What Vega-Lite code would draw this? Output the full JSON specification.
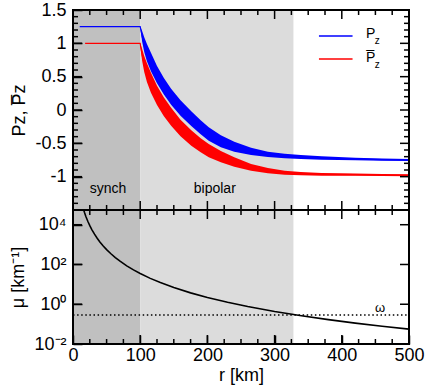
{
  "$schema": "https://vega.github.io/schema/vega-lite/v6.json",
  "background": "white",
  "padding": {"left": 9, "top": 1, "right": 4, "bottom": 2},
  "spacing": 0,
  "bounds": "flush",
  "config": {
    "view": {"stroke": null},
    "axis": {"grid": false, "domain": false, "ticks": true, "tickOpacity": 1, "labelFont": "Liberation Sans", "titleFont": "Liberation Sans", "labelFontSize": 18, "titleFontSize": 18, "titleFontWeight": "normal", "labelColor": "black", "titleColor": "black", "tickColor": "black", "tickWidth": 1.5, "labelFlush": false, "labelOverlap": false},
    "text": {"font": "Liberation Sans", "color": "black"},
    "rule": {"color": "black", "strokeWidth": 1.5}
  },
  "datasets": {
    "regions": [
      {"zone": "synch", "from": 0, "to": 100},
      {"zone": "bipolar", "from": 100, "to": 328}
    ],
    "xticks": [
      {"v": 0, "k": "M"}, {"v": 25, "k": "m"}, {"v": 50, "k": "m"}, {"v": 75, "k": "m"},
      {"v": 100, "k": "M"}, {"v": 125, "k": "m"}, {"v": 150, "k": "m"}, {"v": 175, "k": "m"},
      {"v": 200, "k": "M"}, {"v": 225, "k": "m"}, {"v": 250, "k": "m"}, {"v": 275, "k": "m"},
      {"v": 300, "k": "M"}, {"v": 325, "k": "m"}, {"v": 350, "k": "m"}, {"v": 375, "k": "m"},
      {"v": 400, "k": "M"}, {"v": 425, "k": "m"}, {"v": 450, "k": "m"}, {"v": 475, "k": "m"},
      {"v": 500, "k": "M"}
    ],
    "yticks": [
      {"v": -1.5, "k": "M"}, {"v": -1.4, "k": "m"}, {"v": -1.3, "k": "m"}, {"v": -1.2, "k": "m"}, {"v": -1.1, "k": "m"},
      {"v": -1.0, "k": "M"}, {"v": -0.9, "k": "m"}, {"v": -0.8, "k": "m"}, {"v": -0.7, "k": "m"}, {"v": -0.6, "k": "m"},
      {"v": -0.5, "k": "M"}, {"v": -0.4, "k": "m"}, {"v": -0.3, "k": "m"}, {"v": -0.2, "k": "m"}, {"v": -0.1, "k": "m"},
      {"v": 0.0, "k": "M"}, {"v": 0.1, "k": "m"}, {"v": 0.2, "k": "m"}, {"v": 0.3, "k": "m"}, {"v": 0.4, "k": "m"},
      {"v": 0.5, "k": "M"}, {"v": 0.6, "k": "m"}, {"v": 0.7, "k": "m"}, {"v": 0.8, "k": "m"}, {"v": 0.9, "k": "m"},
      {"v": 1.0, "k": "M"}, {"v": 1.1, "k": "m"}, {"v": 1.2, "k": "m"}, {"v": 1.3, "k": "m"}, {"v": 1.4, "k": "m"},
      {"v": 1.5, "k": "M"}
    ],
    "logticks": [{"v": 0.01}, {"v": 1}, {"v": 100}, {"v": 10000}],
    "curves": [
      {"s": "P", "r": 10, "c": 1.25, "lo": 1.25, "hi": 1.25},
      {"s": "P", "r": 100, "c": 1.25, "lo": 1.25, "hi": 1.25},
      {"s": "P", "r": 101, "c": 1.2, "lo": 1.17, "hi": 1.23},
      {"s": "P", "r": 103, "c": 1.1, "lo": 1.02, "hi": 1.18},
      {"s": "P", "r": 106, "c": 0.98, "lo": 0.87, "hi": 1.09},
      {"s": "P", "r": 110, "c": 0.86, "lo": 0.73, "hi": 0.99},
      {"s": "P", "r": 116, "c": 0.72, "lo": 0.58, "hi": 0.86},
      {"s": "P", "r": 125, "c": 0.53, "lo": 0.4, "hi": 0.66},
      {"s": "P", "r": 135, "c": 0.36, "lo": 0.235, "hi": 0.485},
      {"s": "P", "r": 146, "c": 0.2, "lo": 0.08, "hi": 0.32},
      {"s": "P", "r": 160, "c": 0.03, "lo": -0.085, "hi": 0.145},
      {"s": "P", "r": 176, "c": -0.13, "lo": -0.24, "hi": -0.02},
      {"s": "P", "r": 190, "c": -0.26, "lo": -0.365, "hi": -0.155},
      {"s": "P", "r": 202, "c": -0.36, "lo": -0.46, "hi": -0.26},
      {"s": "P", "r": 220, "c": -0.47, "lo": -0.56, "hi": -0.38},
      {"s": "P", "r": 240, "c": -0.55, "lo": -0.625, "hi": -0.475},
      {"s": "P", "r": 265, "c": -0.62, "lo": -0.675, "hi": -0.565},
      {"s": "P", "r": 290, "c": -0.665, "lo": -0.705, "hi": -0.625},
      {"s": "P", "r": 315, "c": -0.69, "lo": -0.725, "hi": -0.655},
      {"s": "P", "r": 339, "c": -0.705, "lo": -0.735, "hi": -0.675},
      {"s": "P", "r": 370, "c": -0.72, "lo": -0.745, "hi": -0.695},
      {"s": "P", "r": 420, "c": -0.735, "lo": -0.755, "hi": -0.715},
      {"s": "P", "r": 460, "c": -0.745, "lo": -0.763, "hi": -0.727},
      {"s": "P", "r": 500, "c": -0.75, "lo": -0.765, "hi": -0.735},
      {"s": "Pbar", "r": 18, "c": 1.0, "lo": 1.0, "hi": 1.0},
      {"s": "Pbar", "r": 100, "c": 1.0, "lo": 1.0, "hi": 1.0},
      {"s": "Pbar", "r": 101, "c": 0.93, "lo": 0.89, "hi": 0.97},
      {"s": "Pbar", "r": 103, "c": 0.82, "lo": 0.73, "hi": 0.91},
      {"s": "Pbar", "r": 106, "c": 0.69, "lo": 0.57, "hi": 0.81},
      {"s": "Pbar", "r": 110, "c": 0.56, "lo": 0.42, "hi": 0.7},
      {"s": "Pbar", "r": 116, "c": 0.41, "lo": 0.26, "hi": 0.56},
      {"s": "Pbar", "r": 125, "c": 0.22, "lo": 0.075, "hi": 0.365},
      {"s": "Pbar", "r": 135, "c": 0.05, "lo": -0.09, "hi": 0.19},
      {"s": "Pbar", "r": 146, "c": -0.1, "lo": -0.235, "hi": 0.035},
      {"s": "Pbar", "r": 160, "c": -0.27, "lo": -0.395, "hi": -0.145},
      {"s": "Pbar", "r": 176, "c": -0.42, "lo": -0.535, "hi": -0.305},
      {"s": "Pbar", "r": 190, "c": -0.53, "lo": -0.635, "hi": -0.425},
      {"s": "Pbar", "r": 202, "c": -0.61, "lo": -0.71, "hi": -0.51},
      {"s": "Pbar", "r": 220, "c": -0.7, "lo": -0.785, "hi": -0.615},
      {"s": "Pbar", "r": 240, "c": -0.78, "lo": -0.85, "hi": -0.71},
      {"s": "Pbar", "r": 265, "c": -0.86, "lo": -0.91, "hi": -0.81},
      {"s": "Pbar", "r": 290, "c": -0.91, "lo": -0.95, "hi": -0.87},
      {"s": "Pbar", "r": 315, "c": -0.94, "lo": -0.97, "hi": -0.91},
      {"s": "Pbar", "r": 339, "c": -0.955, "lo": -0.98, "hi": -0.93},
      {"s": "Pbar", "r": 370, "c": -0.965, "lo": -0.985, "hi": -0.945},
      {"s": "Pbar", "r": 420, "c": -0.97, "lo": -0.988, "hi": -0.952},
      {"s": "Pbar", "r": 460, "c": -0.975, "lo": -0.991, "hi": -0.959},
      {"s": "Pbar", "r": 500, "c": -0.98, "lo": -0.995, "hi": -0.965}
    ],
    "mu": [
      {"r": 15, "m": 69136}, {"r": 17, "m": 41905}, {"r": 19, "m": 26857},
      {"r": 22, "m": 14941}, {"r": 25, "m": 8960}, {"r": 28, "m": 5694},
      {"r": 32, "m": 3338}, {"r": 36, "m": 2084}, {"r": 40, "m": 1367},
      {"r": 45, "m": 853.5}, {"r": 50, "m": 560}, {"r": 56, "m": 355.9},
      {"r": 63, "m": 222.2}, {"r": 70, "m": 145.8}, {"r": 80, "m": 85.4},
      {"r": 90, "m": 53.3}, {"r": 100, "m": 35}, {"r": 115, "m": 20.0},
      {"r": 130, "m": 12.25}, {"r": 150, "m": 6.91}, {"r": 175, "m": 3.73},
      {"r": 200, "m": 2.19}, {"r": 230, "m": 1.251}, {"r": 260, "m": 0.766},
      {"r": 300, "m": 0.432}, {"r": 340, "m": 0.262}, {"r": 380, "m": 0.168},
      {"r": 420, "m": 0.1125}, {"r": 460, "m": 0.0782}, {"r": 500, "m": 0.056}
    ]
  },
  "vconcat": [
    {
      "width": 336,
      "height": 200,
      "resolve": {"scale": {"color": "independent"}, "axis": {"x": "independent", "y": "independent"}},
      "layer": [
        {
          "data": {"name": "regions"},
          "transform": [{"filter": "datum.zone == 'synch'"}],
          "mark": {"type": "rect", "color": "#c0c0c0"},
          "encoding": {
            "x": {"field": "from", "type": "quantitative", "scale": {"domain": [0, 500], "nice": false}, "axis": null},
            "x2": {"field": "to"},
            "y": {"datum": -1.5, "type": "quantitative", "scale": {"domain": [-1.5, 1.5], "nice": false},
                  "axis": {"orient": "left", "values": [-1.5, -1, -0.5, 0, 0.5, 1, 1.5], "offset": -9, "ticks": true, "tickSize": 9, "labelPadding": 7, "labelExpr": "datum.value == -1.5 ? '' : toString(datum.value)", "title": "Pz, P̅z", "titlePadding": 6, "zindex": 1}},
            "y2": {"datum": 1.5}
          }
        },
        {
          "data": {"name": "regions"},
          "transform": [{"filter": "datum.zone == 'bipolar'"}],
          "mark": {"type": "rect", "color": "#dcdcdc"},
          "encoding": {
            "x": {"field": "from", "type": "quantitative", "axis": null},
            "x2": {"field": "to"},
            "y": {"datum": -1.5, "type": "quantitative", "axis": null},
            "y2": {"datum": 1.5}
          }
        },
        {
          "data": {"name": "curves"},
          "mark": {"type": "area", "clip": true, "opacity": 1},
          "encoding": {
            "x": {"field": "r", "type": "quantitative", "axis": null},
            "y": {"field": "lo", "type": "quantitative", "stack": null, "axis": null},
            "y2": {"field": "hi"},
            "color": {"field": "s", "type": "nominal", "scale": {"domain": ["P", "Pbar"], "range": ["#0000ff", "#ff0000"]}, "legend": null}
          }
        },
        {
          "data": {"name": "curves"},
          "mark": {"type": "line", "clip": true, "strokeWidth": 1.2},
          "encoding": {
            "x": {"field": "r", "type": "quantitative", "axis": null},
            "y": {"field": "c", "type": "quantitative", "axis": null},
            "color": {"field": "s", "type": "nominal", "scale": {"domain": ["P", "Pbar"], "range": ["#0000ff", "#ff0000"]}, "legend": null}
          }
        },
        {
          "data": {"name": "xticks"},
          "transform": [{"filter": "datum.k == 'M'"}],
          "mark": {"type": "rule"},
          "encoding": {
            "x": {"field": "v", "type": "quantitative", "axis": null},
            "y": {"datum": -1.5, "type": "quantitative", "axis": null},
            "y2": {"datum": -1.365}
          }
        },
        {
          "data": {"name": "xticks"},
          "transform": [{"filter": "datum.k == 'm'"}],
          "mark": {"type": "rule"},
          "encoding": {
            "x": {"field": "v", "type": "quantitative", "axis": null},
            "y": {"datum": -1.5, "type": "quantitative", "axis": null},
            "y2": {"datum": -1.425}
          }
        },
        {
          "data": {"name": "xticks"},
          "transform": [{"filter": "datum.k == 'M'"}],
          "mark": {"type": "rule"},
          "encoding": {
            "x": {"field": "v", "type": "quantitative", "axis": null},
            "y": {"datum": 1.5, "type": "quantitative", "axis": null},
            "y2": {"datum": 1.365}
          }
        },
        {
          "data": {"name": "xticks"},
          "transform": [{"filter": "datum.k == 'm'"}],
          "mark": {"type": "rule"},
          "encoding": {
            "x": {"field": "v", "type": "quantitative", "axis": null},
            "y": {"datum": 1.5, "type": "quantitative", "axis": null},
            "y2": {"datum": 1.425}
          }
        },
        {
          "data": {"name": "yticks"},
          "transform": [{"filter": "datum.k == 'M'"}],
          "mark": {"type": "rule"},
          "encoding": {
            "y": {"field": "v", "type": "quantitative", "axis": null},
            "x": {"datum": 0, "type": "quantitative", "axis": null},
            "x2": {"datum": 13.4}
          }
        },
        {
          "data": {"name": "yticks"},
          "transform": [{"filter": "datum.k == 'm'"}],
          "mark": {"type": "rule"},
          "encoding": {
            "y": {"field": "v", "type": "quantitative", "axis": null},
            "x": {"datum": 0, "type": "quantitative", "axis": null},
            "x2": {"datum": 7.4}
          }
        },
        {
          "data": {"name": "yticks"},
          "transform": [{"filter": "datum.k == 'M'"}],
          "mark": {"type": "rule"},
          "encoding": {
            "y": {"field": "v", "type": "quantitative", "axis": null},
            "x": {"datum": 500, "type": "quantitative", "axis": null},
            "x2": {"datum": 486.6}
          }
        },
        {
          "data": {"name": "yticks"},
          "transform": [{"filter": "datum.k == 'm'"}],
          "mark": {"type": "rule"},
          "encoding": {
            "y": {"field": "v", "type": "quantitative", "axis": null},
            "x": {"datum": 500, "type": "quantitative", "axis": null},
            "x2": {"datum": 492.6}
          }
        },
        {
          "data": {"values": [{}]},
          "mark": {"type": "rule", "color": "#0000ff", "strokeWidth": 1.3},
          "encoding": {
            "x": {"datum": 366, "type": "quantitative", "axis": null},
            "x2": {"datum": 416},
            "y": {"datum": 1.11, "type": "quantitative", "axis": null}
          }
        },
        {
          "data": {"values": [{}]},
          "mark": {"type": "rule", "color": "#ff0000", "strokeWidth": 1.3},
          "encoding": {
            "x": {"datum": 366, "type": "quantitative", "axis": null},
            "x2": {"datum": 416},
            "y": {"datum": 0.765, "type": "quantitative", "axis": null}
          }
        },
        {
          "data": {"values": [{}]},
          "mark": {"type": "rect", "filled": false, "stroke": "black", "strokeWidth": 2},
          "encoding": {
            "x": {"datum": 0, "type": "quantitative", "axis": null},
            "x2": {"datum": 500},
            "y": {"datum": -1.5, "type": "quantitative", "axis": null},
            "y2": {"datum": 1.5}
          }
        },
        {
          "data": {"values": [{}]},
          "mark": {"type": "text", "fontSize": 14, "align": "center", "baseline": "middle", "text": "synch"},
          "encoding": {"x": {"datum": 52, "type": "quantitative", "axis": null}, "y": {"datum": -1.185, "type": "quantitative", "axis": null}}
        },
        {
          "data": {"values": [{}]},
          "mark": {"type": "text", "fontSize": 14, "align": "center", "baseline": "middle", "text": "bipolar"},
          "encoding": {"x": {"datum": 211, "type": "quantitative", "axis": null}, "y": {"datum": -1.185, "type": "quantitative", "axis": null}}
        },
        {
          "data": {"values": [{}]},
          "mark": {"type": "text", "fontSize": 14, "align": "left", "baseline": "middle", "text": "P"},
          "encoding": {"x": {"datum": 436, "type": "quantitative", "axis": null}, "y": {"datum": 1.135, "type": "quantitative", "axis": null}}
        },
        {
          "data": {"values": [{}]},
          "mark": {"type": "text", "fontSize": 10, "align": "left", "baseline": "middle", "text": "z"},
          "encoding": {"x": {"datum": 449, "type": "quantitative", "axis": null}, "y": {"datum": 1.03, "type": "quantitative", "axis": null}}
        },
        {
          "data": {"values": [{}]},
          "mark": {"type": "text", "fontSize": 14, "align": "left", "baseline": "middle", "text": "P̅"},
          "encoding": {"x": {"datum": 436, "type": "quantitative", "axis": null}, "y": {"datum": 0.775, "type": "quantitative", "axis": null}}
        },
        {
          "data": {"values": [{}]},
          "mark": {"type": "text", "fontSize": 10, "align": "left", "baseline": "middle", "text": "z"},
          "encoding": {"x": {"datum": 449, "type": "quantitative", "axis": null}, "y": {"datum": 0.675, "type": "quantitative", "axis": null}}
        }
      ]
    },
    {
      "width": 336,
      "height": 134,
      "resolve": {"axis": {"x": "independent", "y": "independent"}},
      "layer": [
        {
          "data": {"name": "regions"},
          "transform": [{"filter": "datum.zone == 'synch'"}],
          "mark": {"type": "rect", "color": "#c0c0c0"},
          "encoding": {
            "x": {"field": "from", "type": "quantitative", "scale": {"domain": [0, 500], "nice": false},
                  "axis": {"orient": "bottom", "values": [0, 100, 200, 300, 400, 500], "offset": -9, "ticks": true, "tickSize": 9, "labelPadding": 2, "title": "r [km]", "titlePadding": 2, "zindex": 1}},
            "x2": {"field": "to"},
            "y": {"datum": 0.01, "type": "quantitative", "scale": {"type": "log", "domain": [0.01, 55000], "nice": false},
                  "axis": {"orient": "left", "values": [0.01, 1, 100, 10000], "offset": -9, "ticks": true, "tickSize": 9, "labelPadding": 7, "labelExpr": "datum.value < 0.1 ? '10⁻²' : datum.value < 10 ? '10⁰' : datum.value < 1000 ? '10²' : '10⁴'", "title": "μ [km⁻¹]", "titlePadding": 6, "zindex": 1}},
            "y2": {"datum": 55000}
          }
        },
        {
          "data": {"name": "regions"},
          "transform": [{"filter": "datum.zone == 'bipolar'"}],
          "mark": {"type": "rect", "color": "#dcdcdc"},
          "encoding": {
            "x": {"field": "from", "type": "quantitative", "axis": null},
            "x2": {"field": "to"},
            "y": {"datum": 0.01, "type": "quantitative", "axis": null},
            "y2": {"datum": 55000}
          }
        },
        {
          "data": {"name": "mu"},
          "mark": {"type": "line", "clip": true, "color": "black", "strokeWidth": 1.6},
          "encoding": {
            "x": {"field": "r", "type": "quantitative", "axis": null},
            "y": {"field": "m", "type": "quantitative", "axis": null}
          }
        },
        {
          "data": {"values": [{}]},
          "mark": {"type": "rule", "color": "black", "strokeWidth": 1.5, "strokeDash": [1.5, 2.6]},
          "encoding": {
            "x": {"datum": 0, "type": "quantitative", "axis": null},
            "x2": {"datum": 500},
            "y": {"datum": 0.29, "type": "quantitative", "axis": null}
          }
        },
        {
          "data": {"name": "xticks"},
          "transform": [{"filter": "datum.k == 'M'"}],
          "mark": {"type": "rule"},
          "encoding": {
            "x": {"field": "v", "type": "quantitative", "axis": null},
            "y": {"datum": 55000, "type": "quantitative", "axis": null},
            "y2": {"datum": 19430}
          }
        },
        {
          "data": {"name": "xticks"},
          "transform": [{"filter": "datum.k == 'm'"}],
          "mark": {"type": "rule"},
          "encoding": {
            "x": {"field": "v", "type": "quantitative", "axis": null},
            "y": {"datum": 55000, "type": "quantitative", "axis": null},
            "y2": {"datum": 30900}
          }
        },
        {
          "data": {"name": "xticks"},
          "transform": [{"filter": "datum.k == 'M'"}],
          "mark": {"type": "rule"},
          "encoding": {
            "x": {"field": "v", "type": "quantitative", "axis": null},
            "y": {"datum": 0.01, "type": "quantitative", "axis": null},
            "y2": {"datum": 0.0283}
          }
        },
        {
          "data": {"name": "xticks"},
          "transform": [{"filter": "datum.k == 'm'"}],
          "mark": {"type": "rule"},
          "encoding": {
            "x": {"field": "v", "type": "quantitative", "axis": null},
            "y": {"datum": 0.01, "type": "quantitative", "axis": null},
            "y2": {"datum": 0.0178}
          }
        },
        {
          "data": {"name": "logticks"},
          "mark": {"type": "rule"},
          "encoding": {
            "y": {"field": "v", "type": "quantitative", "axis": null},
            "x": {"datum": 0, "type": "quantitative", "axis": null},
            "x2": {"datum": 13.4}
          }
        },
        {
          "data": {"name": "logticks"},
          "mark": {"type": "rule"},
          "encoding": {
            "y": {"field": "v", "type": "quantitative", "axis": null},
            "x": {"datum": 500, "type": "quantitative", "axis": null},
            "x2": {"datum": 486.6}
          }
        },
        {
          "data": {"values": [{}]},
          "mark": {"type": "text", "fontSize": 13, "align": "center", "baseline": "middle", "text": "ω"},
          "encoding": {
            "x": {"datum": 457, "type": "quantitative", "axis": null},
            "y": {"datum": 0.65, "type": "quantitative", "axis": null}
          }
        },
        {
          "data": {"values": [{}]},
          "mark": {"type": "rect", "filled": false, "stroke": "black", "strokeWidth": 2},
          "encoding": {
            "x": {"datum": 0, "type": "quantitative", "axis": null},
            "x2": {"datum": 500},
            "y": {"datum": 0.01, "type": "quantitative", "axis": null},
            "y2": {"datum": 55000}
          }
        }
      ]
    }
  ]
}
